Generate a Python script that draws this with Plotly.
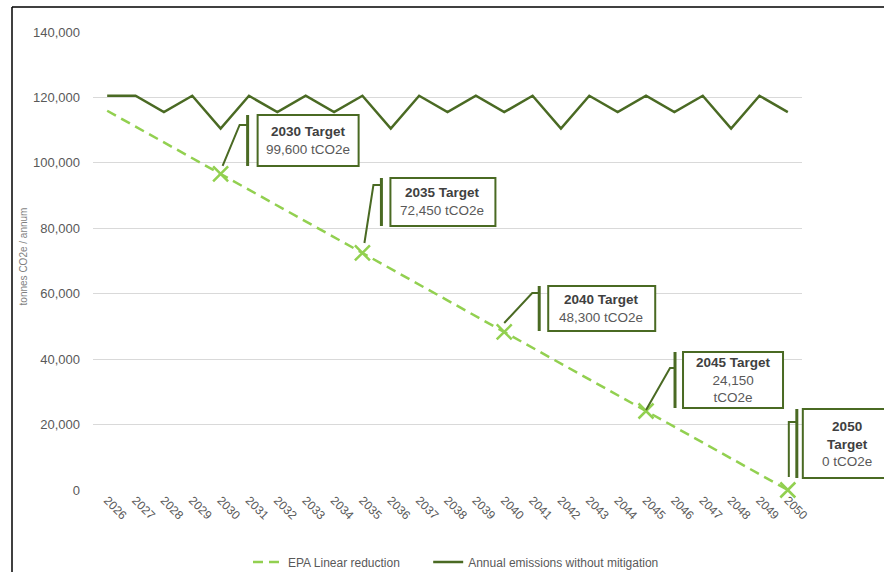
import plotly.graph_objects as go

years = list(range(2026, 2051))
annual_emissions = [120500, 120500, 115500, 120500, 110500, 120500, 115500, 120500, 115500, 120500,
                    110500, 120500, 115500, 120500, 115500, 120500, 110500, 120500, 115500, 120500,
                    115500, 120500, 110500, 120500, 115500]
epa_linear = [115920, 111090, 106260, 101430, 96600, 91770, 86940, 82110, 77280, 72450,
              67620, 62790, 57960, 53130, 48300, 43470, 38640, 33810, 28980, 24150,
              19320, 14490, 9660, 4830, 0]
target_years = [2030, 2035, 2040, 2045, 2050]
target_titles = ["2030 Target", "2035 Target", "2040 Target", "2045 Target", "2050<br>Target"]
target_values = ["99,600 tCO2e", "72,450 tCO2e", "48,300 tCO2e", "24,150<br>tCO2e", "0 tCO2e"]
target_points = [epa_linear[years.index(y)] for y in target_years]

DARK = "#4a6a23"
LIGHT = "#92d050"
GREY = "#595959"

# layout geometry
FW, FH = 884, 572
ML, MR, MT, MB = 93, 82, 32, 82
PW, PH = FW - ML - MR, FH - MT - MB
XR = (2025.5, 2050.5)
YR = (0, 140000)

def px(xv, dx):
    return (xv - XR[0]) / (XR[1] - XR[0]) + dx / PW

def py(yv, dy):
    return (yv - YR[0]) / (YR[1] - YR[0]) - dy / PH

# callout offsets (pixels, relative to marker): leader points, bar x, box l/r/t/b, text centre x
callouts = [
    dict(lead=[(2, -8), (19, -49), (27, -49)], bar=27, box=(37, 138, -59, -8), tx=87),
    dict(lead=[(2, -10), (11, -68), (19, -68)], bar=19, box=(28, 133, -75, -27), tx=80),
    dict(lead=[(0, -9), (28, -39), (35, -39)], bar=35, box=(44, 151, -46, -1), tx=97),
    dict(lead=[(0, -1), (24, -43), (29, -43)], bar=29, box=(37, 137, -59, -3), tx=87),
    dict(lead=[(1, -13), (1, -68), (9, -68)], bar=9, box=(15, 102, -81, -12), tx=59),
]

fig = go.Figure()
fig.add_trace(go.Scatter(x=years, y=epa_linear, mode="lines",
                         name="EPA Linear reduction" + "\u00a0" * 7,
                         line=dict(color=LIGHT, width=2.5, dash="10px,6px")))
fig.add_trace(go.Scatter(x=years, y=annual_emissions, mode="lines",
                         name="Annual emissions without mitigation",
                         line=dict(color=DARK, width=2.5)))
fig.add_trace(go.Scatter(x=target_years, y=target_points, mode="markers", showlegend=False,
                         cliponaxis=False,
                         marker=dict(symbol="x-thin", size=15, line=dict(color=LIGHT, width=2.5))))

shapes = []
annotations = []
for yr, val, c, t1, t2 in zip(target_years, target_points, callouts, target_titles, target_values):
    pts = [(px(yr, dx), py(val, dy)) for dx, dy in c["lead"]]
    path = "M %f,%f " % pts[0] + " ".join("L %f,%f" % p for p in pts[1:])
    shapes.append(dict(type="path", xref="paper", yref="paper", path=path,
                       line=dict(color=DARK, width=2)))
    l, r, t, b = c["box"]
    shapes.append(dict(type="line", xref="paper", yref="paper",
                       x0=px(yr, c["bar"]), x1=px(yr, c["bar"]),
                       y0=py(val, t), y1=py(val, b), line=dict(color=DARK, width=3)))
    shapes.append(dict(type="rect", xref="paper", yref="paper",
                       x0=px(yr, l), x1=px(yr, r), y0=py(val, b), y1=py(val, t),
                       line=dict(color=DARK, width=2), fillcolor="white"))
    annotations.append(dict(xref="paper", yref="paper", x=px(yr, c["tx"]), y=py(val, (t + b) / 2),
                            xanchor="center", yanchor="middle", showarrow=False,
                            text="<b>%s</b><br><span style='color:%s'>%s</span>" % (t1, GREY, t2),
                            font=dict(family="Liberation Sans, Arial", size=13.5, color="#404040")))

# frame lines (left and top)
shapes.append(dict(type="line", xref="paper", yref="paper", x0=(12 - ML) / PW, x1=(12 - ML) / PW,
                   y0=(PH + MT - 7) / PH, y1=-(MB + 5) / PH, line=dict(color="black", width=1.5)))
shapes.append(dict(type="line", xref="paper", yref="paper", x0=(12 - ML) / PW, x1=(FW - ML + 5) / PW,
                   y0=(PH + MT - 7) / PH, y1=(PH + MT - 7) / PH, line=dict(color="black", width=1.5)))

annotations.append(dict(xref="paper", yref="paper", x=(23 - ML) / PW, y=0.51, textangle=-90,
                        showarrow=False, xanchor="center", yanchor="middle",
                        text="tonnes CO2e / annum",
                        font=dict(family="Liberation Sans, Arial", size=10, color="#7f7f7f")))

fig.update_layout(
    width=FW, height=FH,
    margin=dict(l=ML, r=MR, t=MT, b=MB, autoexpand=False),
    paper_bgcolor="white", plot_bgcolor="white",
    font=dict(family="Liberation Sans, Arial", size=12, color=GREY),
    shapes=shapes, annotations=annotations,
    legend=dict(orientation="h", x=(248 - ML) / PW, xanchor="left",
                y=-(562 - MT - PH) / PH, yanchor="middle",
                font=dict(size=12, color=GREY), itemwidth=30),
    xaxis=dict(range=list(XR), tickvals=years, ticktext=[str(y) for y in years],
               tickangle=45, showgrid=False, zeroline=False, showline=False,
               tickfont=dict(size=12, color=GREY), fixedrange=True),
    yaxis=dict(range=list(YR), tickvals=[0, 20000, 40000, 60000, 80000, 100000, 120000, 140000],
               tickformat=",", showgrid=True, gridcolor="#d9d9d9", gridwidth=1,
               zeroline=False, showline=False, ticklabelstandoff=12,
               tickfont=dict(size=13, color=GREY)),
)

fig.write_html("out.html")
